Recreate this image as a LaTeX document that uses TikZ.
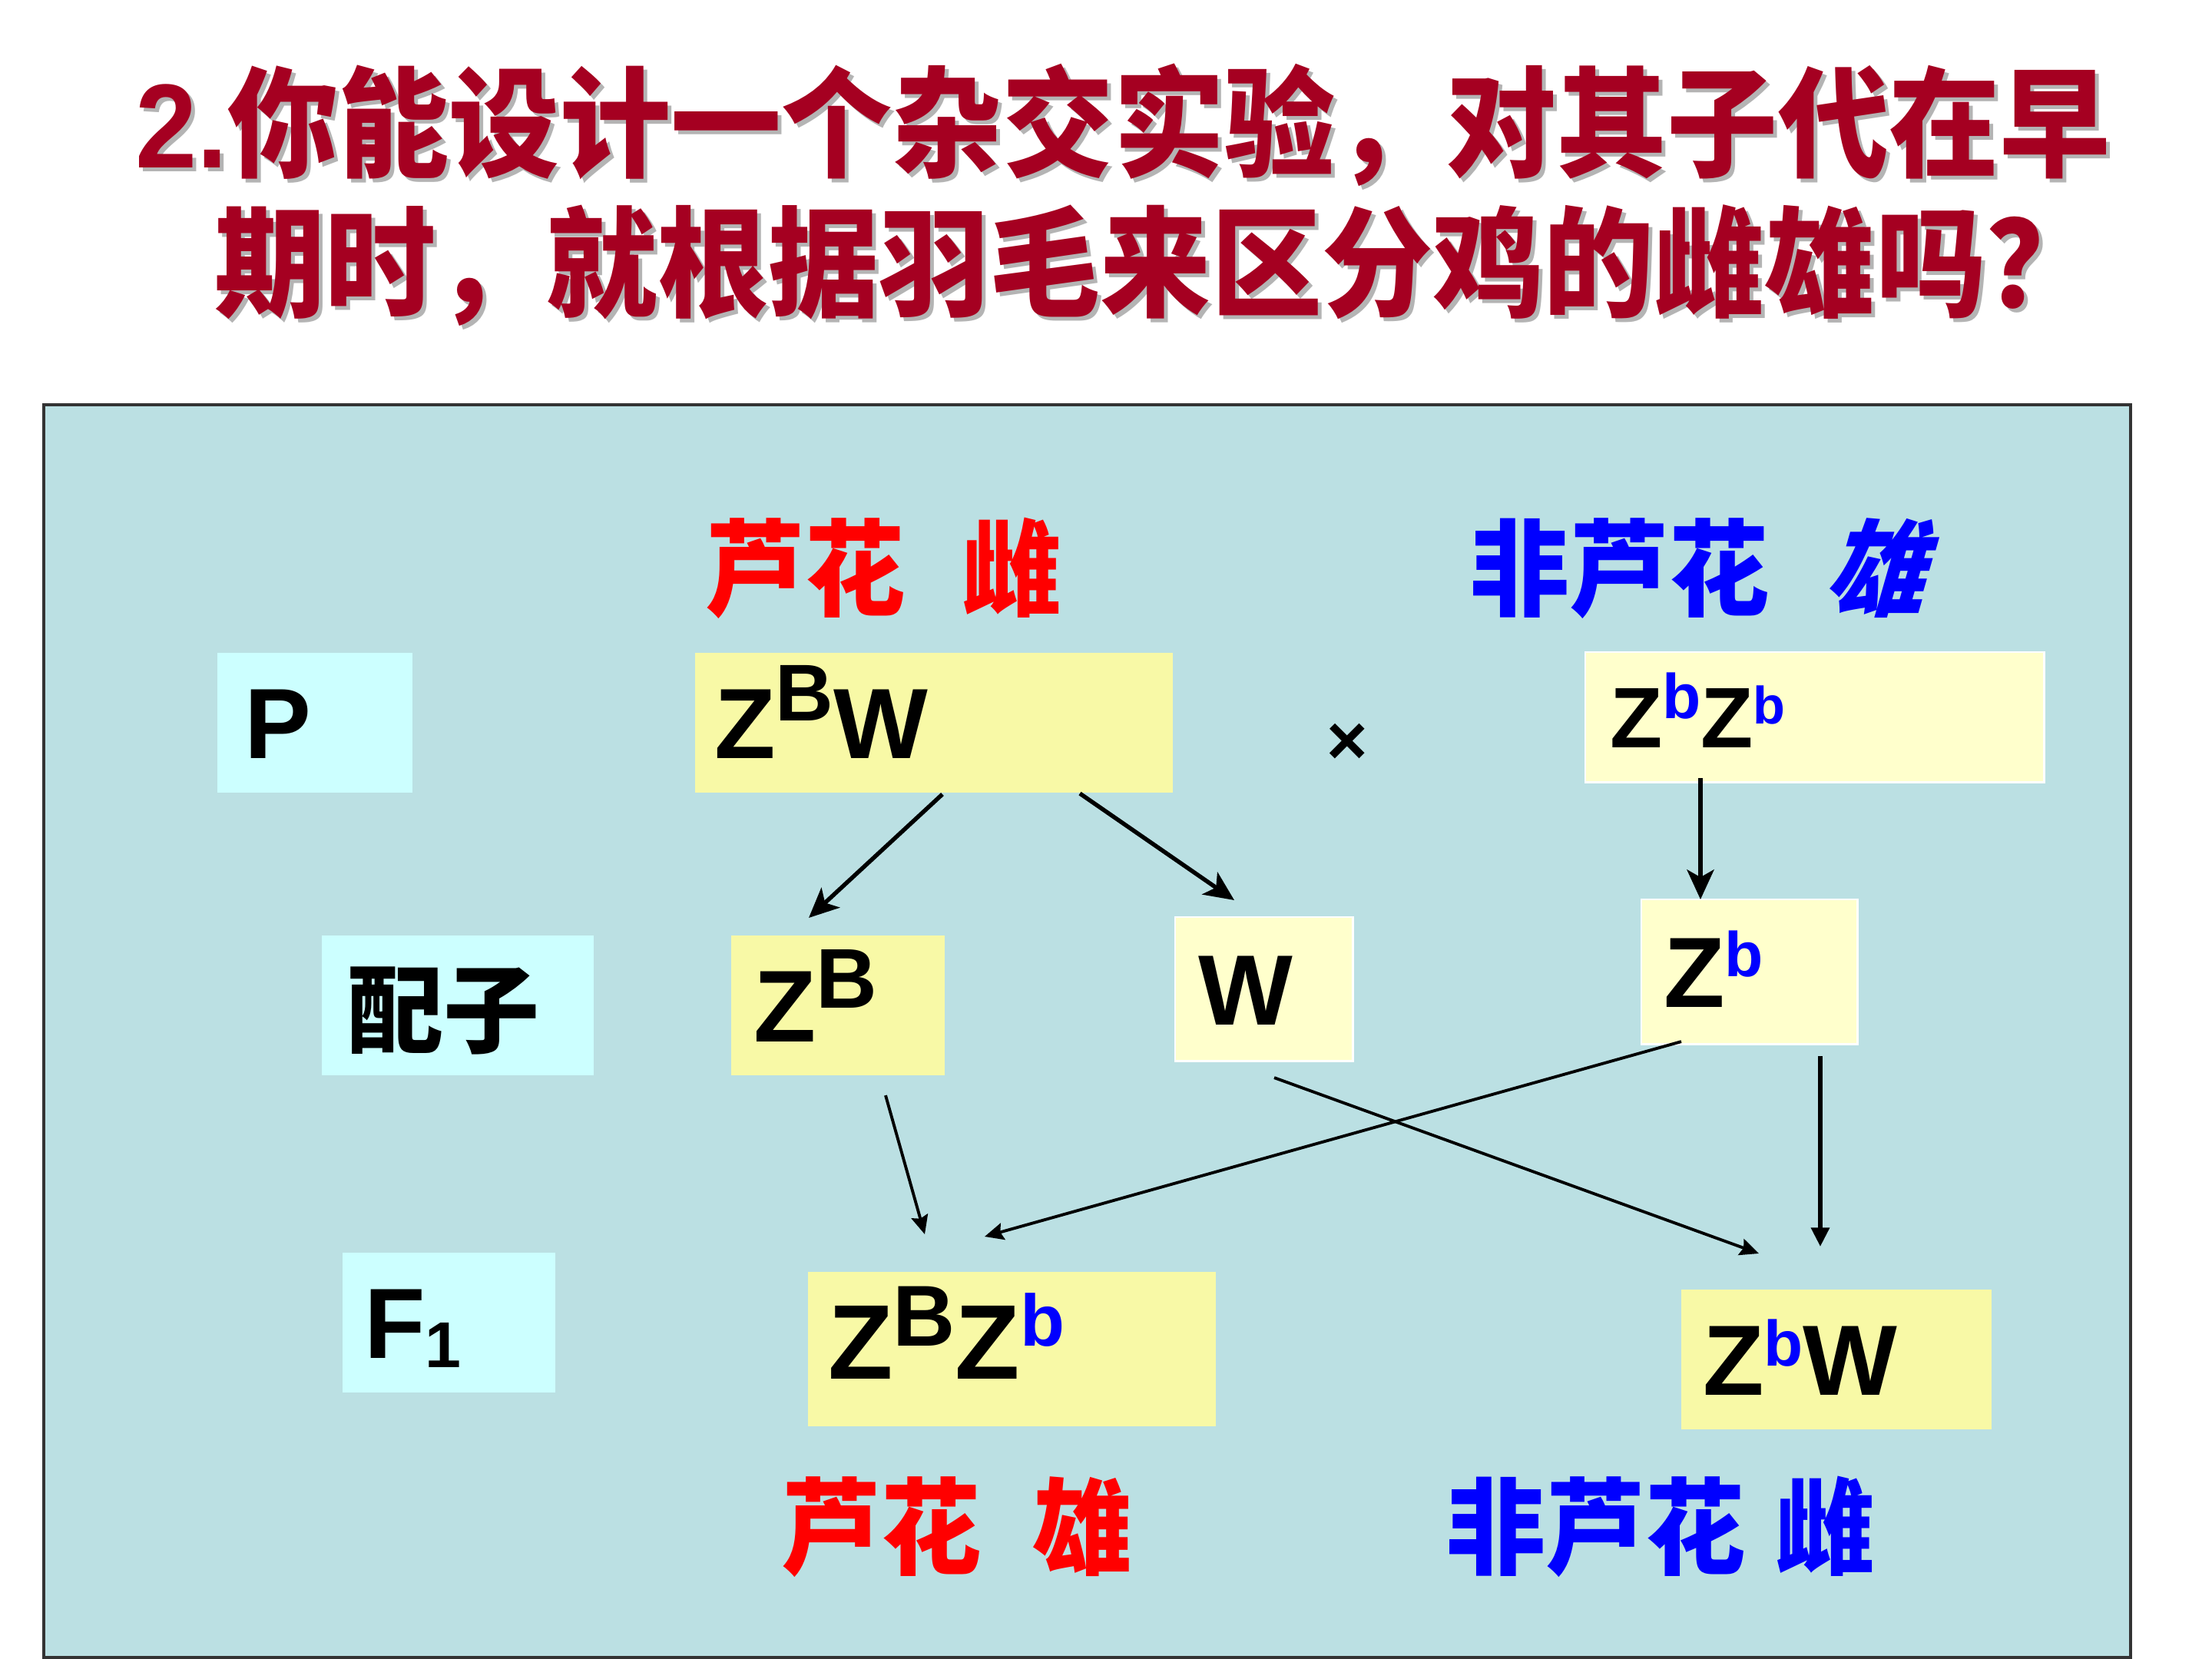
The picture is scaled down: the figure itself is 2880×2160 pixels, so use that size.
\documentclass[tikz,border=0pt]{standalone}
\usepackage{fontspec}
\usepackage{graphicx}
\setmainfont{Liberation Sans}
\newfontfamily\cjk{Noto Sans CJK SC}
\newfontfamily\cjksl{Noto Sans CJK SC}[FakeSlant=0.3]
\usetikzlibrary{arrows.meta,calc}
\definecolor{titlered}{HTML}{A50021}
\definecolor{panelc}{HTML}{BBE0E3}
\definecolor{ylw}{HTML}{F8F9A6}
\definecolor{ylwl}{HTML}{FFFFCC}
\definecolor{cyanb}{HTML}{CCFFFF}
\definecolor{lblblue}{HTML}{0000FF}
\definecolor{lblred}{HTML}{FF0000}
\definecolor{shadowgray}{HTML}{B4B4B4}
\newcommand\fsz[1]{\fontsize{#1}{#1}\selectfont}
\newcommand\gsup[3]{\raisebox{#1}{\fsz{#2}#3}}
\newcommand\bl[1]{{\color{lblblue}#1}}
\tikzset{
  box/.style={anchor=north west, inner ysep=0pt, outer sep=0pt, align=left, text depth=0pt},
  lbl/.style={inner sep=0pt, anchor=west, font=\cjk\bfseries\fsz{37}},
  titletext/.style={inner sep=0pt, anchor=center, text=titlered},
  thickarr/.style={line width=1.55pt, -{Stealth[length=11pt,width=10pt,inset=2.8pt]}},
  midarr/.style={line width=1.6pt, -{Stealth[length=7pt,width=6.6pt,inset=0pt]}},
  thinarr/.style={line width=1.1pt, -{Stealth[length=7pt,width=6.3pt,inset=1pt]}}
}
\begin{document}
\begin{tikzpicture}[x=0.01cm,y=-0.01cm]
\useasboundingbox (0,0) rectangle (2880,2160);
\fill[white] (0,0) rectangle (2880,2160);
% panel
\draw[fill=panelc, draw=black!80, line width=1.1pt] (57,527) rectangle (2774,2158);

% title
\newcommand\titleA{\scalebox{1}[1.08]{\fsz{41}\bfseries 2.{\cjk 你能设计一个杂交实验，对其子代在早}}}
\newcommand\titleB{\scalebox{1}[1.08]{\fsz{41}\bfseries{\cjk 期时，就根据羽毛来区分鸡的雌雄吗？}}}
\node[titletext, text=shadowgray] (t1s) at (1467,168) {\titleA};
\node[titletext, text=shadowgray] (t2s) at (1510,351) {\titleB};
\node[titletext] (t1) at (1462,163) {\titleA};
\node[titletext] (t2) at (1505,346) {\titleB};

% parent row
\node[box, fill=cyanb, minimum height=1.82cm, inner xsep=0.35cm, text width=1.84cm,
      text height=26.5pt, font=\fsz{37}\bfseries] (P) at (283,850) {P};
\node[box, fill=ylw, minimum height=1.82cm, inner xsep=0.25cm, text width=5.72cm,
      text height=26.5pt, font=\fsz{37}\bfseries] (ZBW) at (905,850) {Z\gsup{13.9pt}{29.8}{B}W};
\node[box, fill=ylwl, draw=white, line width=0.8pt, minimum height=1.69cm, inner xsep=0.32cm, text width=5.33cm,
      text height=22.8pt, font=\fsz{31.8}\bfseries] (ZbZb) at (2064,849) {Z\gsup{10.8pt}{23.4}{\bl{b}}Z\gsup{9pt}{19.5}{\bl{b}}};
\node[font=\fsz{26}\bfseries, inner sep=0pt] (cross) at (1754,969) {×};

% gamete row
\node[box, fill=cyanb, minimum height=1.82cm, inner xsep=0.33cm, text width=2.88cm,
      text height=33.6pt, text depth=4pt, font=\cjk\bfseries\fsz{35.6}] (gam) at (419,1218) {配子};
\node[box, fill=ylw, minimum height=1.82cm, inner xsep=0.29cm, text width=2.20cm,
      text height=27.1pt, font=\fsz{37.8}\bfseries] (ZB) at (952,1218) {Z\gsup{12.5pt}{31.4}{B}};
\node[box, fill=ylwl, draw=white, line width=0.8pt, minimum height=1.87cm, inner xsep=0.30cm, text width=1.71cm,
      text height=26.5pt, font=\fsz{37}\bfseries] (W) at (1530,1194) {W};
\node[box, fill=ylwl, draw=white, line width=0.8pt, minimum height=1.88cm, inner xsep=0.29cm, text width=2.23cm,
      text height=26.5pt, font=\fsz{37}\bfseries] (Zb) at (2137,1171) {Z\gsup{11.4pt}{23.4}{\bl{b}}};

% F1 row
\node[box, fill=cyanb, minimum height=1.82cm, inner xsep=0.28cm, text width=2.21cm,
      text height=26.5pt, font=\fsz{37}\bfseries] (F1) at (446,1631) {F\raisebox{-3.4pt}{\fsz{24}1}};
\node[box, fill=ylw, minimum height=2.01cm, inner xsep=0.26cm, text width=4.79cm,
      text height=28.1pt, text depth=6.2pt, font=\fsz{39.3}\bfseries] (ZBZb) at (1052,1656) {Z\gsup{12pt}{32}{B}Z\gsup{12pt}{27}{\bl{b}}};
\node[box, fill=ylw, minimum height=1.82cm, inner xsep=0.28cm, text width=3.48cm,
      text height=26.5pt, font=\fsz{37}\bfseries] (ZbW) at (2189,1679) {Z\gsup{10.8pt}{23.8}{\bl{b}}W};

% labels
\node[lbl, text=lblred] (lab1) at (918,740) {\scalebox{1}[1.05]{芦花\hspace{21pt}雌}};
\node[lbl, text=lblblue] (lab2) at (1913,740) {\scalebox{1}[1.05]{非芦花\hspace{20pt}{\cjksl 雄}}};
\node[lbl, text=lblred] (lab3) at (1017,1988) {\scalebox{1}[1.05]{芦花\hspace{19pt}雄}};
\node[lbl, text=lblblue] (lab4) at (1882,1988) {\scalebox{1}[1.05]{非芦花\hspace{11pt}雌}};

% connectors
\draw[thickarr] ($(ZBW.south west)+(322,2)$) -- ($(ZB.north west)+(101,-23)$);
\draw[thickarr] ($(ZBW.south west)+(501,1)$) -- ($(W.north west)+(77,-22)$);
\draw[thickarr] ($(ZbZb.south west)+(150,-5)$) -- ($(Zb.north west)+(77,0)$);
\draw[thinarr] ($(ZB.south west)+(201,26)$) -- ($(ZBZb.north west)+(152,-49)$);
\draw[thinarr] ($(Zb.south west)+(52,-3)$) -- ($(ZBZb.north west)+(230,-46)$);
\draw[thinarr] ($(W.south west)+(129,22)$) -- ($(ZbW.north west)+(101,-47)$);
\draw[midarr] ($(Zb.south west)+(233,16)$) -- ($(ZbW.north west)+(181,-56)$);
\end{tikzpicture}
\end{document}
